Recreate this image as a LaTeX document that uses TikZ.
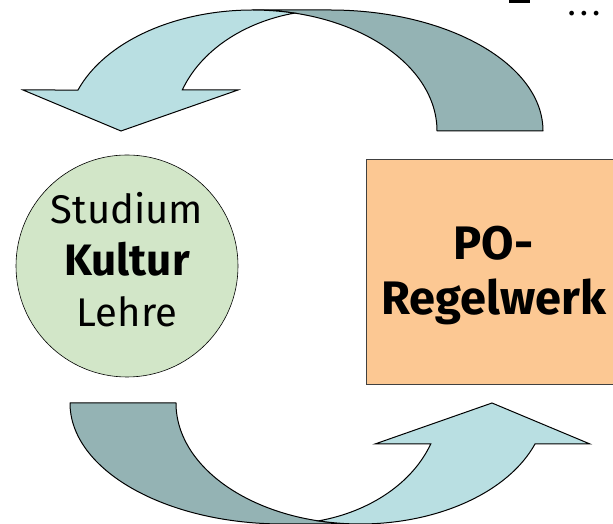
\documentclass[tikz,border=0pt]{standalone}
\usepackage{fontspec}
\setmainfont{Fira Sans}
\usepackage{tikz}
\usetikzlibrary{positioning}
\usepackage{xcolor}
\definecolor{bandlight}{HTML}{B9DFE2}
\definecolor{banddark}{HTML}{94B3B4}
\definecolor{kulturgreen}{HTML}{D2E6C8}
\definecolor{regelorange}{HTML}{FCC893}

% one curved arrow: dark back band first, light front band with head on top
\newcommand{\bogenpfeil}{%
  \draw[backband] (543,393) arc[start angle=0, end angle=90, x radius=213, y radius=121]
    -- (253,514) arc[start angle=90, end angle=0, x radius=184, y radius=121] -- cycle;
  \draw[frontband] (253,514) arc[start angle=90, end angle=160.2, x radius=186, y radius=121]
    -- (23,434) -- (121,393) -- (238,434) -- (182.3,434)
    arc[start angle=160.2, end angle=103.1, x radius=157, y radius=121]
    arc[start angle=77, end angle=90, x radius=184, y radius=121] -- cycle;
}

\begin{document}
\begin{tikzpicture}[
  x=1pt, y=1pt,
  backband/.style={fill=banddark, draw=black, line width=1pt, line join=round},
  frontband/.style={fill=bandlight, draw=black, line width=1pt, line join=miter},
  kreis/.style={circle, fill=kulturgreen, draw=black, line width=0.6pt,
                minimum size=222pt, inner sep=0pt},
  kasten/.style={rectangle, fill=regelorange, draw=black!75, line width=0.8pt,
                 minimum width=255pt, minimum height=225pt, inner sep=0pt},
  schrift/.style={inner sep=0pt, align=center, font=\fontsize{40}{51.5}\selectfont},
]
  \clip (0,0) rectangle (613,524);

  % arrows top and bottom
  \bogenpfeil
  \begin{scope}[rotate around={180:(306.5,257)}]
    \bogenpfeil
  \end{scope}

  \node[kreis] (kultur) at (127,258) {};
  \node[schrift] (kulturtext) at ([yshift=6pt]kultur.center)
    {Studium\\{\fontsize{44}{51.5}\selectfont\bfseries Kultur}\\Lehre};
  \node[kasten] (regel) at (493.5,252.5) {};
  \node[schrift, font=\fontsize{47}{55}\selectfont\bfseries] (regeltext)
    at ([yshift=-4pt]regel.center) {PO-\\Regelwerk};

  % cut-off marks at top right
  \node[fill=black, minimum width=21pt, minimum height=3pt, inner sep=0pt,
        anchor=north west] (strich) at (509,524) {};
  \node[font=\fontsize{26}{26}\selectfont\bfseries, inner sep=0pt, anchor=base] (punkte)
    at (584,508) {.\hspace{6pt}.\hspace{6pt}.};
\end{tikzpicture}
\end{document}
